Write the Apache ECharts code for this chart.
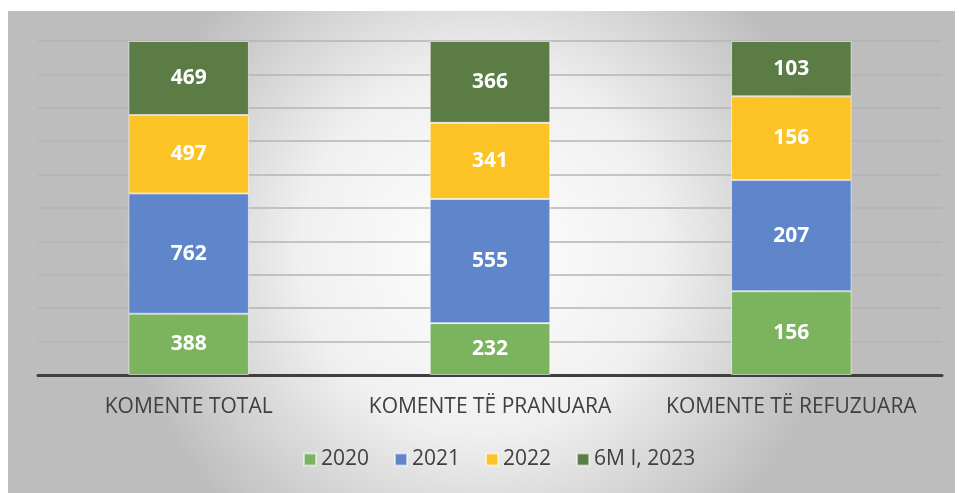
<!DOCTYPE html>
<html>
<head>
<meta charset="utf-8">
<script src="https://cdn.jsdelivr.net/npm/echarts@6/dist/echarts.min.js"></script>
<style>
  html, body { margin: 0; padding: 0; background: #fff; }
  #chart { width: 960px; height: 493px; }
</style>
</head>
<body>
<div id="chart"></div>
<script>
// kategorite dhe vlerat
const categories = ['KOMENTE TOTAL', 'KOMENTE TË PRANUARA', 'KOMENTE TË REFUZUARA']
const seriesNames = ['2020', '2021', '2022', '6M I, 2023']
const v2020 = [388, 232, 156]
const v2021 = [762, 555, 207]
const v2022 = [497, 341, 156]
const v2023 = [469, 366, 103]
const colors = ['#7BB35F', '#5F86CB', '#FBC326', '#5B7C45']

const raw = [v2020, v2021, v2022, v2023]
// totali per kolone, per 100% stacked
const totals = categories.map((c, i) => raw.reduce((s, arr) => s + arr[i], 0))

const chart = echarts.init(document.getElementById('chart'))

const series = raw.map((arr, k) => {
  return {
    name: seriesNames[k],
    type: 'bar',
    stack: 'all',
    barWidth: '40%',
    itemStyle: {
      color: colors[k],
      borderColor: 'rgba(255,255,255,0.55)',
      borderWidth: 1
    },
    label: {
      show: true,
      position: 'inside',
      color: '#fff',
      fontFamily: 'Open Sans',
      fontWeight: 'bold',
      fontSize: 21,
      formatter: p => arr[p.dataIndex]
    },
    data: arr.map((v, i) => v / totals[i] * 100)
  }
})

const option = {
  animation: false,
  textStyle: { fontFamily: 'Open Sans' },
  graphic: [
    {
      type: 'rect',
      z: -100,
      silent: true,
      shape: { x: 8, y: 11, width: 947, height: 482 },
      style: {
        fill: new echarts.graphic.RadialGradient(0.5, 0.5, 0.75, [
          { offset: 0, color: '#ffffff' },
          { offset: 0.5, color: '#f0f0f0' },
          { offset: 1, color: '#bdbdbd' }
        ])
      }
    }
  ],
  grid: { left: 38, right: 18, top: 41, bottom: 118 },
  legend: {
    data: seriesNames,
    bottom: 18,
    left: 298,
    itemWidth: 12,
    itemHeight: 12,
    itemGap: 25,
    icon: 'rect',
    textStyle: { fontSize: 21, color: '#404040', fontFamily: 'Open Sans' }
  },
  xAxis: {
    type: 'category',
    data: categories,
    axisLine: { lineStyle: { color: '#3f3f3f', width: 3 } },
    axisTick: { show: false },
    axisLabel: { interval: 0, fontSize: 21, color: '#404040', margin: 22 }
  },
  yAxis: {
    type: 'value',
    min: 0,
    max: 100,
    interval: 10,
    axisLabel: { show: false },
    axisLine: { show: false },
    axisTick: { show: false },
    splitLine: { lineStyle: { color: '#b5b5b5', width: 1.5 } }
  },
  series: series
}

chart.setOption(option)
</script>
</body>
</html>
